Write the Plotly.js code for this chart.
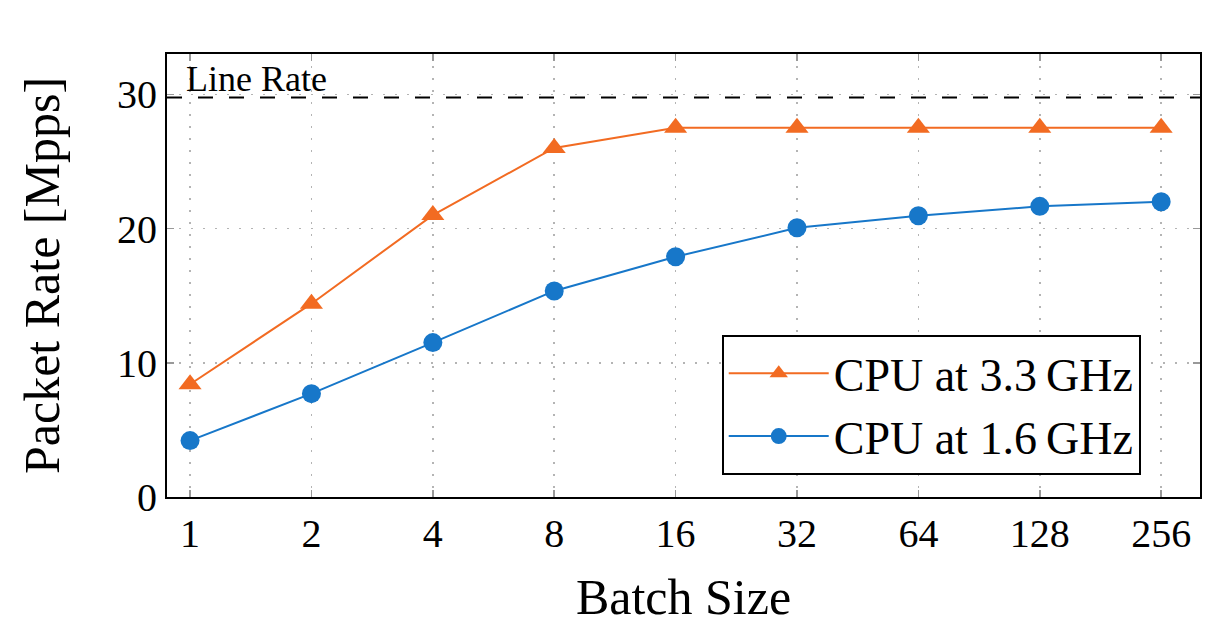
<!DOCTYPE html>
<html>
<head>
<meta charset="utf-8">
<script src="https://cdn.plot.ly/plotly-3.0.1.min.js"></script>
<style>html,body{margin:0;padding:0;background:#fff;}#chart{width:1227px;height:638px;}</style>
</head>
<body>
<div id="chart"></div>
<script>
const batchSizes = ["1", "2", "4", "8", "16", "32", "64", "128", "256"];
const cpu33 = [8.4, 14.4, 21.0, 26.0, 27.5, 27.5, 27.5, 27.5, 27.5];
const cpu16 = [4.2, 7.7, 11.5, 15.35, 17.9, 20.05, 20.95, 21.65, 22.0];
const lineRate = 29.76;
const seriesNames = ["CPU at 3.3\u2009GHz", "CPU at 1.6\u2009GHz"];

const FONT = "Liberation Serif, DejaVu Serif, serif";
const ORANGE = "#f26b22";
const BLUE = "#1777c9";

const traces = [
  {x: batchSizes, y: cpu33, name: seriesNames[0], type: "scatter", mode: "lines+markers",
   line: {color: ORANGE, width: 2}, marker: {symbol: "triangle-up", size: 20, color: ORANGE}},
  {x: batchSizes, y: cpu16, name: seriesNames[1], type: "scatter", mode: "lines+markers",
   line: {color: BLUE, width: 2}, marker: {symbol: "circle", size: 19, color: BLUE}}
];

const layout = {
  width: 1227, height: 638,
  margin: {l: 167, r: 27, t: 54, b: 141},
  paper_bgcolor: "#fff", plot_bgcolor: "#fff",
  font: {family: FONT, color: "#000", size: 40},
  showlegend: true,
  legend: {x: 0.537, y: 0.366, xanchor: "left", yanchor: "top",
           bordercolor: "#000", borderwidth: 2, bgcolor: "#fff",
           font: {family: FONT, size: 46}, tracegroupgap: 0, itemwidth: 100,
           entrywidth: 450, entrywidthmode: "pixels"},
  xaxis: {type: "category", range: [-0.19, 8.32],
          title: {text: "Batch Size", font: {family: FONT, size: 50}, standoff: 24},
          showline: true, linecolor: "#000", linewidth: 2, mirror: "ticks",
          ticks: "inside", ticklen: 7, tickcolor: "#999", tickwidth: 1.5,
          showgrid: true, gridcolor: "#b4b4b4", griddash: "2px,10px", gridwidth: 1.5,
          zeroline: false, tickfont: {family: FONT, size: 40}},
  yaxis: {range: [0, 33], tickvals: [0, 10, 20, 30], ticktext: ["0", "10", "20", "30"],
          title: {text: "Packet Rate [Mpps]", font: {family: FONT, size: 50}, standoff: 42},
          showline: true, linecolor: "#000", linewidth: 2, mirror: "ticks",
          ticks: "inside", ticklen: 7, tickcolor: "#999", tickwidth: 1.5,
          showgrid: true, gridcolor: "#b4b4b4", griddash: "2px,10px", gridwidth: 1.5,
          zeroline: false, tickfont: {family: FONT, size: 40}},
  shapes: [{type: "line", xref: "paper", x0: 0, x1: 1, yref: "y", y0: lineRate, y1: lineRate,
            line: {color: "#000", width: 2.2, dash: "15px,16px"}, layer: "above"}],
  annotations: [{xref: "x", x: 0, yref: "y", y: lineRate, xanchor: "left", yanchor: "bottom",
                 xshift: -6, yshift: -4,
                 text: "Line Rate", showarrow: false, font: {family: FONT, size: 36, color: "#000"}}]
};

Plotly.newPlot("chart", traces, layout, {displayModeBar: false, staticPlot: true});
</script>
</body>
</html>
